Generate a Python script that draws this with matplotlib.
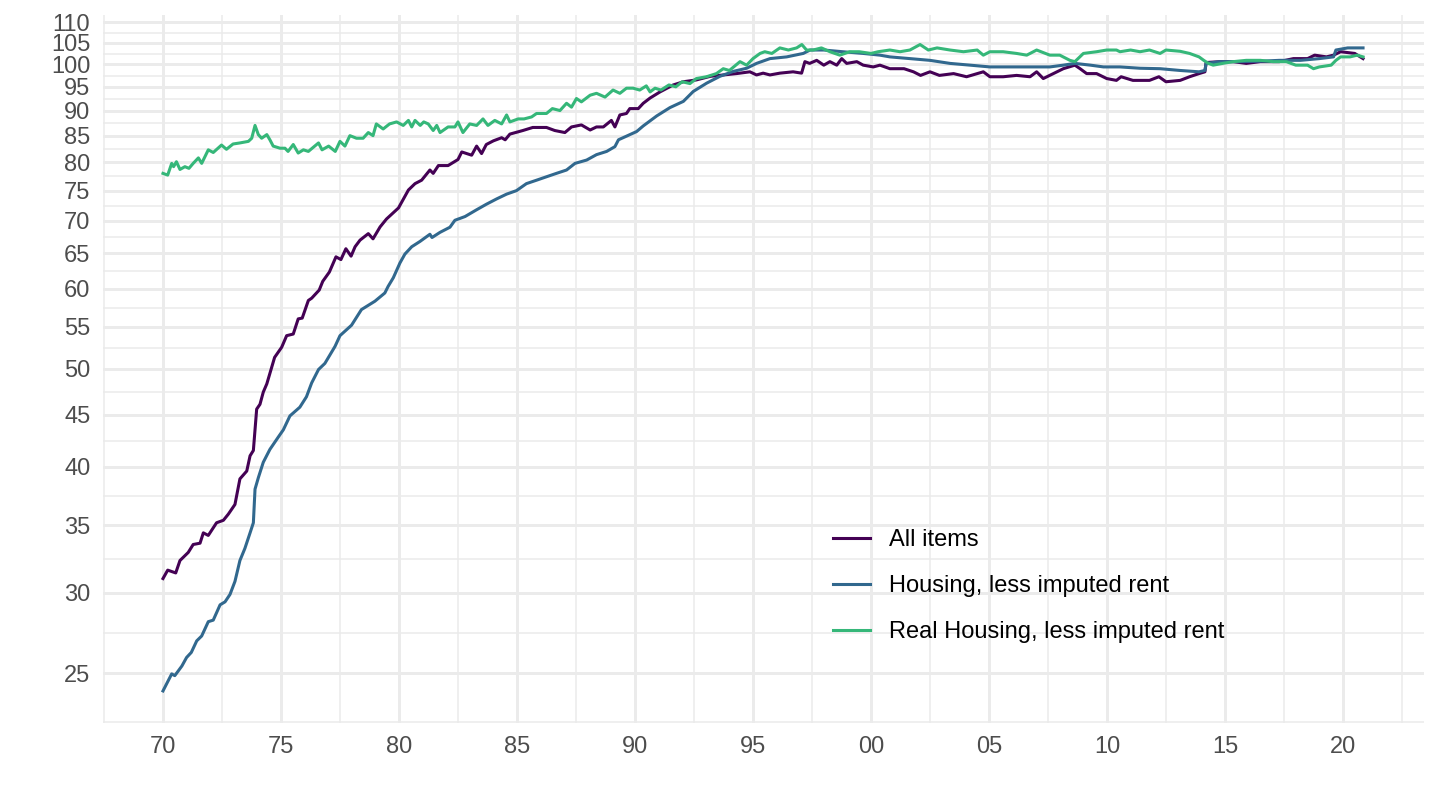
import numpy as np
import matplotlib
matplotlib.use("Agg")
import matplotlib.pyplot as plt
from matplotlib.ticker import FixedLocator, NullFormatter

plt.rcParams['font.family'] = ['Liberation Sans', 'DejaVu Sans']

# ---------------- data (decimal year, index value) ----------------
all_items_t = [1970.00, 1970.20, 1970.54, 1970.72, 1971.07, 1971.28, 1971.57, 1971.71, 1971.92,
               1972.27, 1972.56, 1972.77, 1973.05, 1973.26, 1973.55, 1973.69, 1973.83, 1973.97,
               1974.11, 1974.25, 1974.40, 1974.73, 1975.03, 1975.24, 1975.52, 1975.73, 1975.90,
               1976.16, 1976.30, 1976.62, 1976.77, 1977.05, 1977.33, 1977.54, 1977.75, 1977.97,
               1978.14, 1978.35, 1978.70, 1978.90, 1979.20, 1979.47, 1979.70, 1979.98, 1980.18,
               1980.40, 1980.68, 1980.96, 1981.31, 1981.45, 1981.67, 1982.08, 1982.50, 1982.66,
               1983.08, 1983.29, 1983.50, 1983.70, 1984.00, 1984.35, 1984.50, 1984.70, 1985.25,
               1985.67, 1986.25, 1986.60, 1987.03, 1987.31, 1987.73, 1988.10, 1988.37, 1988.66,
               1989.00, 1989.15, 1989.36, 1989.64, 1989.78, 1990.14, 1990.35, 1990.64, 1991.06,
               1991.62, 1992.05, 1992.60, 1993.20, 1993.74, 1994.30, 1994.87, 1995.15, 1995.43,
               1995.72, 1996.14, 1996.70, 1997.06, 1997.20, 1997.40, 1997.70, 1998.00, 1998.26,
               1998.55, 1998.76, 1998.97, 1999.40, 1999.67, 2000.10, 2000.38, 2000.80, 2001.40,
               2001.80, 2002.10, 2002.50, 2002.90, 2003.50, 2004.05, 2004.76, 2005.04, 2005.60,
               2006.17, 2006.74, 2007.02, 2007.30, 2007.73, 2008.15, 2008.64, 2008.86, 2009.14,
               2009.56, 2009.99, 2010.40, 2010.60, 2011.10, 2011.80, 2012.20, 2012.50, 2013.10,
               2013.50, 2013.90, 2014.15, 2014.20, 2014.80, 2015.35, 2015.90, 2016.50, 2017.30,
               2017.90, 2018.50, 2018.80, 2019.30, 2019.60, 2019.90, 2020.50, 2020.85]
all_items_v = [31.0, 31.6, 31.4, 32.3, 32.9, 33.5, 33.6, 34.4, 34.2,
               35.2, 35.4, 35.9, 36.7, 38.9, 39.6, 41.0, 41.5, 45.6,
               46.1, 47.4, 48.3, 51.3, 52.5, 53.9, 54.1, 56.0, 56.1,
               58.4, 58.7, 59.8, 61.0, 62.3, 64.5, 64.1, 65.7, 64.6,
               66.0, 67.0, 68.0, 67.2, 69.05, 70.3, 71.1, 72.1, 73.5,
               75.1, 76.2, 76.8, 78.6, 78.0, 79.4, 79.4, 80.5, 81.9,
               81.3, 83.0, 81.6, 83.3, 84.0, 84.6, 84.2, 85.3, 86.0,
               86.6, 86.6, 86.0, 85.6, 86.7, 87.1, 86.1, 86.7, 86.7,
               88.0, 86.7, 89.1, 89.4, 90.4, 90.4, 91.5, 92.6, 93.9,
               95.4, 96.1, 96.5, 97.3, 97.6, 97.9, 98.3, 97.6, 98.0,
               97.6, 98.0, 98.3, 98.0, 100.6, 100.2, 100.9, 99.8, 100.6,
               99.8, 101.3, 100.2, 100.6, 99.8, 99.4, 99.8, 99.0, 99.0,
               98.3, 97.5, 98.3, 97.5, 97.9, 97.2, 98.3, 97.2, 97.2,
               97.5, 97.2, 98.3, 96.8, 97.9, 99.0, 99.8, 99.0, 97.9,
               97.9, 96.8, 96.4, 97.2, 96.4, 96.4, 97.2, 96.1, 96.4,
               97.2, 97.9, 98.3, 100.4, 100.6, 100.6, 100.2, 100.6, 100.6,
               101.3, 101.3, 102.1, 101.7, 102.1, 102.9, 102.5, 101.3]

housing_t = [1970.00, 1970.37, 1970.50, 1970.80, 1971.00, 1971.20, 1971.43, 1971.64, 1971.92,
             1972.13, 1972.42, 1972.63, 1972.84, 1973.05, 1973.26, 1973.47, 1973.69, 1973.83,
             1973.90, 1974.04, 1974.25, 1974.53, 1974.89, 1975.10, 1975.38, 1975.80, 1976.08,
             1976.30, 1976.59, 1976.86, 1977.29, 1977.50, 1977.99, 1978.41, 1978.98, 1979.40,
             1979.54, 1979.76, 1980.04, 1980.25, 1980.54, 1980.89, 1981.31, 1981.40, 1981.74,
             1982.16, 1982.37, 1982.80, 1983.29, 1983.70, 1984.14, 1984.56, 1984.98, 1985.40,
             1985.83, 1986.25, 1986.67, 1987.10, 1987.46, 1987.95, 1988.37, 1988.80, 1989.15,
             1989.30, 1989.64, 1990.07, 1990.35, 1990.92, 1991.48, 1992.05, 1992.47, 1993.04,
             1993.60, 1994.17, 1994.73, 1995.15, 1995.72, 1996.43, 1997.13, 1997.42, 1998.00,
             1998.80, 1999.67, 2000.38, 2000.80, 2001.65, 2002.50, 2003.35, 2004.20, 2005.04,
             2005.90, 2006.74, 2007.58, 2008.15, 2008.64, 2009.30, 2009.85, 2010.55, 2011.40,
             2012.25, 2013.10, 2013.90, 2014.15, 2014.20, 2014.80, 2015.60, 2016.50, 2017.30,
             2018.20, 2019.00, 2019.60, 2019.70, 2020.20, 2020.85]
housing_v = [24.0, 24.95, 24.85, 25.4, 25.9, 26.2, 26.9, 27.2, 28.1,
             28.2, 29.2, 29.4, 29.9, 30.8, 32.3, 33.2, 34.4, 35.2,
             38.0, 39.0, 40.4, 41.6, 42.8, 43.5, 44.9, 45.8, 46.9,
             48.4, 49.9, 50.6, 52.6, 53.9, 55.2, 57.2, 58.3, 59.4,
             60.3, 61.5, 63.6, 64.9, 66.0, 66.8, 67.9, 67.4, 68.2,
             69.0, 70.1, 70.7, 71.8, 72.7, 73.6, 74.4, 75.0, 76.2,
             76.8, 77.4, 78.0, 78.6, 79.8, 80.4, 81.4, 82.0, 82.9,
             84.2, 84.9, 85.8, 86.9, 88.9, 90.6, 91.9, 94.0, 95.8,
             97.3, 98.4, 99.1, 100.2, 101.3, 101.7, 102.5, 103.3, 103.3,
             102.9, 102.5, 102.1, 101.7, 101.3, 100.9, 100.2, 99.8, 99.4,
             99.4, 99.4, 99.4, 99.8, 100.2, 99.8, 99.4, 99.4, 99.1,
             99.0, 98.6, 98.3, 98.6, 100.2, 100.6, 100.6, 100.7, 100.9,
             100.9, 101.3, 101.7, 103.3, 103.8, 103.8]

real_t = [1970.00, 1970.20, 1970.37, 1970.45, 1970.57, 1970.72, 1970.93, 1971.10, 1971.28,
          1971.50, 1971.64, 1971.92, 1972.13, 1972.48, 1972.69, 1972.97, 1973.26, 1973.62,
          1973.76, 1973.90, 1974.04, 1974.18, 1974.40, 1974.53, 1974.67, 1974.96, 1975.17,
          1975.30, 1975.52, 1975.73, 1975.95, 1976.16, 1976.59, 1976.74, 1977.02, 1977.30,
          1977.50, 1977.71, 1977.92, 1978.20, 1978.48, 1978.70, 1978.90, 1979.04, 1979.33,
          1979.60, 1979.90, 1980.18, 1980.40, 1980.54, 1980.68, 1980.90, 1981.05, 1981.24,
          1981.45, 1981.60, 1981.74, 1982.08, 1982.37, 1982.50, 1982.71, 1983.00, 1983.29,
          1983.56, 1983.77, 1984.06, 1984.35, 1984.56, 1984.70, 1985.05, 1985.30, 1985.62,
          1985.83, 1986.25, 1986.50, 1986.82, 1987.10, 1987.31, 1987.52, 1987.73, 1988.10,
          1988.37, 1988.73, 1989.07, 1989.36, 1989.64, 1989.92, 1990.20, 1990.48, 1990.64,
          1990.85, 1991.10, 1991.44, 1991.73, 1992.00, 1992.33, 1992.60, 1993.03, 1993.45,
          1993.74, 1994.00, 1994.45, 1994.73, 1995.00, 1995.30, 1995.50, 1995.80, 1996.14,
          1996.50, 1996.85, 1997.07, 1997.27, 1997.55, 1997.90, 1998.26, 1998.68, 1999.10,
          1999.50, 2000.00, 2000.30, 2000.80, 2001.23, 2001.65, 2002.08, 2002.43, 2002.80,
          2003.35, 2003.92, 2004.50, 2004.76, 2005.04, 2005.60, 2006.17, 2006.60, 2007.02,
          2007.58, 2008.00, 2008.43, 2008.64, 2009.00, 2009.56, 2009.99, 2010.40, 2010.55,
          2011.00, 2011.40, 2011.80, 2012.25, 2012.50, 2013.10, 2013.50, 2013.90, 2014.10,
          2014.30, 2014.50, 2014.90, 2015.35, 2015.90, 2016.50, 2017.04, 2017.60, 2018.00,
          2018.50, 2018.75, 2019.00, 2019.50, 2019.70, 2019.90, 2020.30, 2020.60, 2020.85]
real_v = [78.0, 77.7, 79.8, 79.2, 80.1, 78.7, 79.2, 78.9, 79.8,
          80.8, 79.8, 82.3, 81.8, 83.2, 82.4, 83.4, 83.6, 83.9,
          84.5, 87.0, 85.2, 84.5, 85.2, 84.2, 83.0, 82.6, 82.6,
          82.0, 83.3, 81.7, 82.3, 82.0, 83.6, 82.3, 83.0, 82.0,
          83.9, 83.0, 85.0, 84.5, 84.5, 85.6, 85.0, 87.3, 86.3,
          87.3, 87.7, 87.0, 88.0, 86.7, 88.0, 87.0, 87.7, 87.3,
          86.0, 87.0, 85.6, 86.7, 86.7, 87.7, 85.6, 87.3, 87.0,
          88.3, 87.0, 88.0, 87.3, 89.1, 87.7, 88.3, 88.3, 88.7,
          89.4, 89.4, 90.4, 90.0, 91.5, 90.7, 92.5, 91.8, 93.2,
          93.6, 92.8, 94.3, 93.6, 94.7, 94.7, 94.3, 95.2, 93.9,
          94.7, 94.3, 95.4, 95.0, 96.1, 95.7, 96.8, 97.2, 97.9,
          99.0, 98.6, 100.6, 99.8, 101.3, 102.5, 102.9, 102.5, 103.8,
          103.3, 103.8, 104.6, 103.3, 103.3, 103.8, 102.9, 102.1, 102.9,
          102.9, 102.5, 102.9, 103.3, 102.9, 103.3, 104.6, 103.3, 103.8,
          103.3, 102.9, 103.3, 102.1, 102.9, 102.9, 102.5, 102.1, 103.3,
          102.1, 102.1, 100.9, 100.6, 102.5, 102.9, 103.3, 103.3, 102.9,
          103.3, 102.9, 103.3, 102.5, 103.3, 103.0, 102.5, 101.7, 100.9,
          100.2, 99.8, 100.2, 100.6, 100.9, 100.9, 100.6, 100.6, 99.8,
          99.8, 99.0, 99.4, 99.8, 100.9, 101.7, 101.7, 102.1, 101.7]

series_labels = ["All items", "Housing, less imputed rent", "Real Housing, less imputed rent"]
series_colors = ["#440154", "#31688E", "#35B779"]

y_breaks = [25, 30, 35, 40, 45, 50, 55, 60, 65, 70, 75, 80, 85, 90, 95, 100, 105, 110]
x_breaks = [1970, 1975, 1980, 1985, 1990, 1995, 2000, 2005, 2010, 2015, 2020]
x_labels = ["70", "75", "80", "85", "90", "95", "00", "05", "10", "15", "20"]

# ---------------- figure ----------------
fig = plt.figure(figsize=(14.4, 8.1), dpi=100)
ax = fig.add_axes([102.8 / 1440, 1 - 723.2 / 810, 1321.6 / 1440, 707.9 / 810])

data = [(all_items_t, all_items_v), (housing_t, housing_v), (real_t, real_v)]
for (t, v), lab, col in zip(data, series_labels, series_colors):
    ax.plot(t, v, color=col, lw=2.2, label=lab, solid_joinstyle='round', zorder=3)

ax.set_yscale('log')
ax.set_ylim(22.3, 111.8)
ax.set_xlim(1967.45, 2023.45)

ax.yaxis.set_major_locator(FixedLocator(y_breaks))
ax.set_yticklabels([str(b) for b in y_breaks])
yb = np.array([20] + y_breaks + [115], dtype=float)
ax.yaxis.set_minor_locator(FixedLocator(np.sqrt(yb[:-1] * yb[1:])))
ax.yaxis.set_minor_formatter(NullFormatter())

ax.xaxis.set_major_locator(FixedLocator(x_breaks))
ax.set_xticklabels(x_labels)
xb = np.array([1965] + x_breaks + [2025], dtype=float)
ax.xaxis.set_minor_locator(FixedLocator((xb[:-1] + xb[1:]) / 2))

ax.grid(which='major', color='#EBEBEB', lw=2.1)
ax.grid(which='minor', color='#EBEBEB', lw=1.1)
ax.set_axisbelow(True)
for s in ax.spines.values():
    s.set_visible(False)
ax.tick_params(which='both', length=0)
ax.tick_params(axis='y', labelsize=17, labelcolor='#4D4D4D', pad=9)
ax.tick_params(axis='x', labelsize=17, labelcolor='#4D4D4D', pad=9)

leg = fig.legend(loc='upper left', bbox_to_anchor=(833 / 1440, 1 - 529 / 810),
                 frameon=False, fontsize=17, handlelength=1.57, handletextpad=0.8,
                 labelspacing=1.02, borderpad=0, borderaxespad=0)
for h in leg.get_lines():
    h.set_linewidth(2.2)

fig.savefig("out.png", dpi=100)
